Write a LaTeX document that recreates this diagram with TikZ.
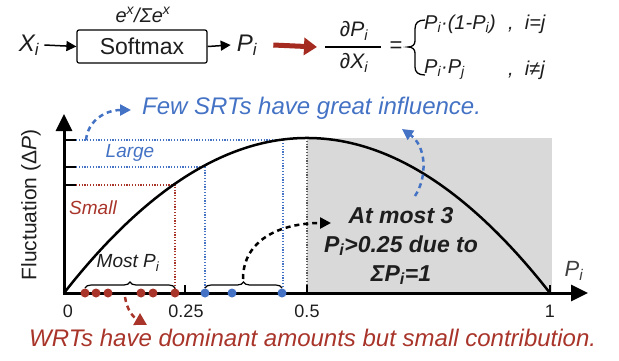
\documentclass[tikz,border=0pt]{standalone}
\usepackage{fontspec}
\setmainfont{Liberation Sans}
\usetikzlibrary{arrows.meta,decorations.pathreplacing}
\definecolor{myblue}{RGB}{68,114,196}
\definecolor{myred}{RGB}{168,52,42}
\definecolor{arrred}{RGB}{165,42,32}
\definecolor{greyfill}{RGB}{217,217,217}
\definecolor{ink}{RGB}{30,30,30}
\begin{document}
\begin{tikzpicture}[x=1pt,y=-1pt,
  txt/.style={inner sep=0pt, text=ink},
  sml/.style={font=\fontsize{18}{22}\selectfont},
  bluedot/.style={fill=myblue, draw=none, circle, minimum size=9pt, inner sep=0pt},
  reddot/.style={fill=myred, draw=none, circle, minimum size=9pt, inner sep=0pt},
  dashln/.style={dash pattern=on 5pt off 4pt, line width=2.5pt},
  guide/.style={dash pattern=on 1.2pt off 1.6pt, line width=1.1pt},
  arrtip/.style={-{Triangle[length=11pt,width=11pt]}},
]
\useasboundingbox (0,0) rectangle (619,360);

% ---------- top formula ----------
\node[txt, font=\fontsize{24}{28}\selectfont\itshape] (xi) at (29,45) {X\textsubscript{i}};
\node[draw, line width=1.2pt, rounded corners=2pt, minimum width=130pt, minimum height=33pt,
      font=\fontsize{23}{27}\selectfont, text=ink] (sm) at (142,46.5) {Softmax};
\node[txt, font=\fontsize{20}{24}\selectfont\itshape] (ex) at (143,15) {e\textsuperscript{x}/Σe\textsuperscript{x}};
\node[txt, font=\fontsize{24}{28}\selectfont\itshape] (pi) at (247,45) {P\textsubscript{i}};
\draw[line width=1.5pt, -{Triangle[length=10pt,width=10pt]}] ([xshift=5pt]xi.east) -- (sm.west);
\draw[line width=1.5pt, -{Triangle[length=10pt,width=10pt]}] (sm.east) -- ([xshift=-6pt]pi.west);

\node[txt, font=\fontsize{21}{25}\selectfont\itshape] (num) at (354,31) {∂P\textsubscript{i}};
\node[txt, font=\fontsize{21}{25}\selectfont\itshape] (den) at (354,63) {∂X\textsubscript{i}};
\coordinate (barL) at (325,47);
\coordinate (barR) at (381,47);
\draw[line width=1.5pt] (barL) -- (barR);
\draw[arrred, line width=5pt, -{Triangle[length=13pt,width=17pt]}] ([xshift=16pt]pi.east) -- ([xshift=-8pt]barL);
\node[txt, font=\fontsize{22}{26}\selectfont] (eq) at (396,47) {=};
\draw[line width=1.3pt] (425,20) .. controls (418,20) and (415,23) .. (415,29) -- (415,41)
   .. controls (415,45) and (412,47) .. (408,47)
   .. controls (412,47) and (415,49) .. (415,53) -- (415,67)
   .. controls (415,72) and (418,75) .. (425,75);
\node[txt, anchor=west, font=\fontsize{20}{24}\selectfont\itshape] (c1) at (424,24) {P\textsubscript{i}·(1-P\textsubscript{i})};
\node[txt, anchor=west, font=\fontsize{20}{24}\selectfont\itshape] (k1) at (508,24) {,\ \ i=j};
\node[txt, anchor=west, font=\fontsize{20}{24}\selectfont\itshape] (c2) at (424,70) {P\textsubscript{i}·P\textsubscript{j}};
\node[txt, anchor=west, font=\fontsize{20}{24}\selectfont\itshape] (k2) at (508,70) {,\ \ i≠j};

% ---------- plot ----------
\fill[greyfill] (307,138) rectangle (552,293);
\draw[guide, gray!70!black] (307,138) -- (307,293);
\draw[guide, myblue] (76,140) -- (283,140) -- (283,293);
\draw[guide, myblue] (76,167) -- (205,167) -- (205,293);
\draw[guide, myred] (76,185) -- (175,185) -- (175,293);
\draw[line width=1.5pt] (64,140) -- (76,140) (64,167) -- (76,167) (64,185) -- (76,185);
\draw[line width=1.5pt] (185,293) -- (185,285) (307,293) -- (307,285) (550,293) -- (550,285);

\draw[line width=2.5pt] (64,293) .. controls (226,86.3) and (388,86.3) .. (550,293);

\draw[line width=3pt, -{Triangle[length=17pt,width=16pt]}] (64,294.5) -- (64,114);
\draw[line width=3pt, -{Triangle[length=17pt,width=16pt]}] (62.5,293) -- (588,293);

\node[txt, sml] (t0) at (68,311) {0};
\node[txt, sml] (t1) at (186,311) {0.25};
\node[txt, sml] (t2) at (307,311) {0.5};
\node[txt, sml] (t3) at (550,311) {1};
\node[txt, font=\fontsize{22}{26}\selectfont\itshape, text=ink!85] (px) at (574,271) {P\textsubscript{i}};
\node[txt, rotate=90, font=\fontsize{21}{25}\selectfont, text=ink] (yl) at (31,205) {Fluctuation (Δ\textit{P})};

\node[txt, font=\fontsize{19}{23}\selectfont\itshape, text=myblue] (large) at (130,153) {Large};
\node[txt, font=\fontsize{19}{23}\selectfont\itshape, text=myred] (small) at (93,208) {Small};

\foreach \x/\n in {85/r1,96/r2,108/r3,141/r4,153/r5,175/r6}
  \node[reddot] (\n) at (\x,293) {};
\foreach \x/\n in {205/b1,232/b2,282/b3}
  \node[bluedot] (\n) at (\x,293) {};

\draw[decorate, decoration={brace, amplitude=6pt}, line width=1.2pt] (85,288) -- (175,288);
\draw[decorate, decoration={brace, amplitude=6pt}, line width=1.2pt] (205,288) -- (282,288);
\node[txt, font=\fontsize{19}{23}\selectfont\itshape] (most) at (128,263) {Most P\textsubscript{i}};

\node[txt, align=center, font=\fontsize{23}{29}\selectfont\bfseries\itshape] (atm) at (401,246)
  {At most 3\\P\textsubscript{i}>0.25 due to\\ΣP\textsubscript{i}=1};
\coordinate (br2) at (243,279);
\coordinate (atmA) at (331,223);
\draw[dashln, arrtip] (br2) .. controls (243,240) and (280,223) .. (atmA);

\node[txt, anchor=west, font=\fontsize{24}{28}\selectfont\itshape, text=myblue] (few) at (142,108)
  {Few SRTs have great influence.};
\coordinate (fewS) at (86,140);
\coordinate (fewE) at (131,110);
\draw[dashln, myblue, arrtip] (fewS) .. controls (88,120) and (106,110) .. (fewE);
\coordinate (cS) at (415,196);
\coordinate (cE) at (402,129);
\draw[dashln, myblue, arrtip] (cS) .. controls (428,176) and (426,146) .. (cE);

\node[txt, anchor=west, font=\fontsize{24}{28}\selectfont\itshape, text=myred] (wrt) at (29,338)
  {WRTs have dominant amounts but small contribution.};
\coordinate (wS) at (125,297);
\coordinate (wE) at (147,325);
\draw[dashln, myred, -{Triangle[length=12pt,width=13pt]}] (wS) .. controls (127,310) and (133,317) .. (wE);
\end{tikzpicture}
\end{document}
